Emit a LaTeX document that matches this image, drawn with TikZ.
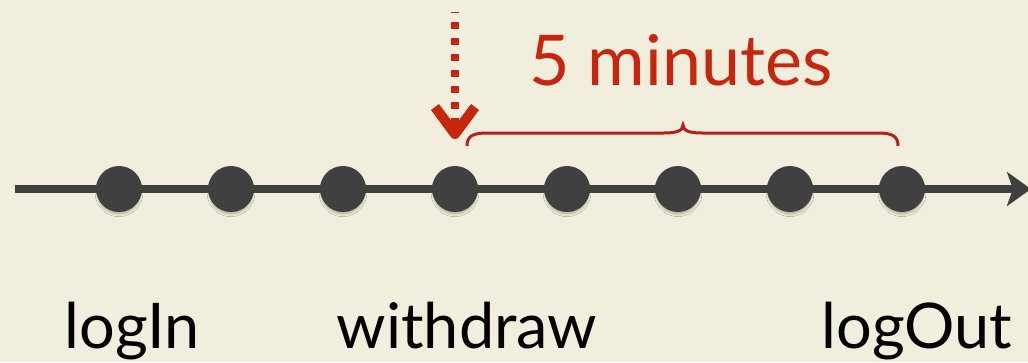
\documentclass[tikz,border=0pt]{standalone}
\usepackage{fontspec}
\setmainfont{Lato}
\usetikzlibrary{arrows.meta,shadows.blur}
\definecolor{bgc}{HTML}{F2EEDD}
\definecolor{dotc}{HTML}{404040}
\definecolor{redt}{HTML}{C8260C}
\definecolor{redb}{HTML}{B5201A}
\tikzset{
  evdot/.style={circle, fill=dotc, minimum size=46pt, inner sep=0pt,
    blur shadow={shadow xshift=0pt, shadow yshift=-4pt, shadow scale=0.92, shadow blur steps=6, shadow blur radius=3pt, shadow opacity=30}},
  lbl/.style={anchor=base, text=black, font=\fontsize{63}{70}\selectfont, inner sep=0pt},
  axis/.style={draw=dotc, line width=8pt, -{Stealth[length=24pt, width=34pt, inset=6pt]}},
}
\begin{document}
\begin{tikzpicture}[x=1pt,y=-1pt]
\useasboundingbox[fill=bgc] (0,0) rectangle (1028,362);
\coordinate (ls) at (15,189);
\coordinate (le) at (1031,189);
\draw[axis] (ls) -- (le);
\foreach \i/\xx in {1/119,2/231,3/343,4/455,5/567,6/678,7/790,8/902}{
  \node[evdot] (d\i) at (\xx,189) {};
}
\node[lbl] (login) at (132,348) {logIn};
\node[lbl] (withdraw) at (467,348) {withdraw};
\node[lbl] (logout) at (917,348) {logOut};
% dotted arrow
\coordinate (at) at (455,12);
\coordinate (ab) at (455,128);
\coordinate (tip) at (455,134);
\draw[redt, line width=8pt, dash pattern=on 7pt off 9pt, dash phase=6pt] (at) -- (ab);
\draw[redt, line width=10pt, line join=round] (435,107) -- (tip) -- (475,107);
% brace
\draw[redb, line width=3pt] (467,146) .. controls (467,136) and (473,133) .. (487,133)
  -- (664,133) .. controls (676,133) and (683,131) .. (683,125)
  .. controls (683,131) and (690,133) .. (702,133)
  -- (878,133) .. controls (892,133) and (898,136) .. (898,146);
\node[anchor=base, text=redt, font=\fontsize{70}{80}\selectfont, inner sep=0pt] (five) at (681,85) {5 minutes};
\end{tikzpicture}
\end{document}
